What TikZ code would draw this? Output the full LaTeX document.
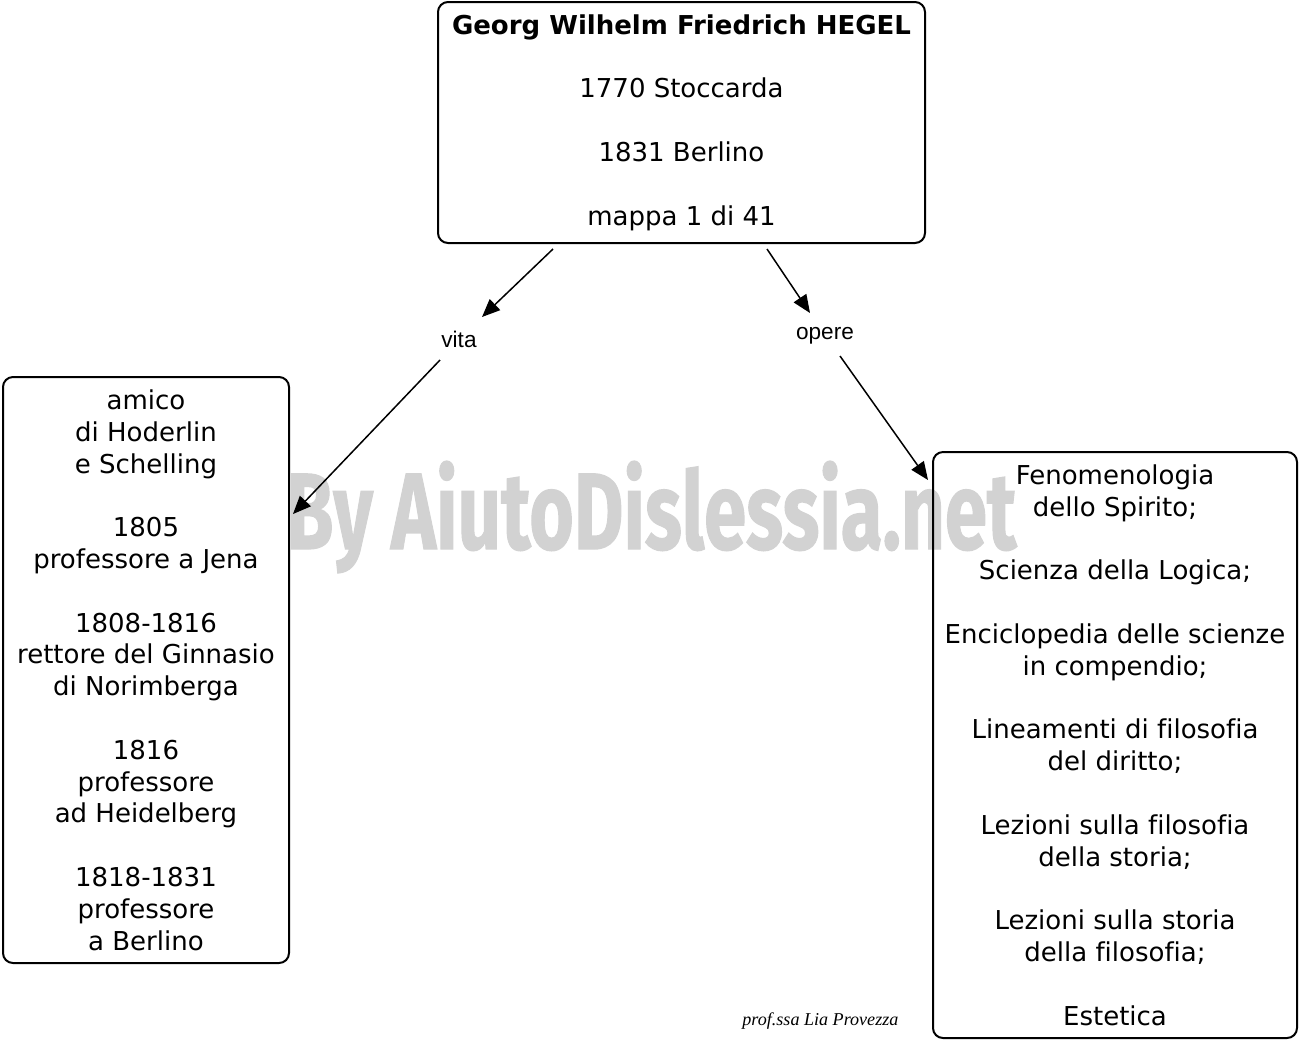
\documentclass[tikz,border=0pt]{standalone}
\usepackage{fontspec}
\usetikzlibrary{arrows.meta,calc}
\newfontfamily\boxfont[Ligatures=NoCommon]{DejaVu Sans}
\newfontfamily\lblfont{Liberation Sans}
\newfontfamily\wmfont[BoldFeatures={FakeBold=1.2}]{Fira Sans}
\newfontfamily\sigfont{Liberation Serif}
\definecolor{wmgray}{RGB}{210,210,210}
\tikzset{
  boxnode/.style={draw, rounded corners=5pt, line width=1pt, align=center,
    font=\boxfont\fontsize{13}{15.9}\selectfont, inner sep=0pt},
  lbl/.style={font=\lblfont\fontsize{11.3}{13}\selectfont, inner sep=0pt},
  arr/.style={line width=0.75pt, -{Triangle[length=9pt,width=7.5pt]}}
}
\begin{document}
\begin{tikzpicture}[x=0.5pt,y=-0.5pt]
\useasboundingbox (0,0) rectangle (1300,1041);
% watermark
\node[anchor=base west, inner sep=0pt, text=wmgray] (wm) at (286,549)
  {\resizebox{365pt}{44pt}{\wmfont\bfseries By AiutoDislessia.net}};
% boxes
\node[boxnode, minimum width=243.5pt, minimum height=120.5pt] (top) at (681.5,122.5)
  {{\bfseries Georg Wilhelm Friedrich HEGEL}\\[15.9pt]
   1770 Stoccarda\\[15.9pt]
   1831 Berlino\\[15.9pt]
   mappa 1 di 41};
\node[boxnode, minimum width=143pt, minimum height=293pt] (left) at (146,670)
  {amico\\di Hoderlin\\e Schelling\\[15.9pt]
   1805\\professore a Jena\\[15.9pt]
   1808-1816\\rettore del Ginnasio\\di Norimberga\\[15.9pt]
   1816\\professore\\ad Heidelberg\\[15.9pt]
   1818-1831\\professore\\a Berlino};
\node[boxnode, minimum width=182pt, minimum height=293pt] (right) at (1115,745)
  {Fenomenologia\\dello Spirito;\\[15.9pt]
   Scienza della Logica;\\[15.9pt]
   Enciclopedia delle scienze\\in compendio;\\[15.9pt]
   Lineamenti di filosofia\\del diritto;\\[15.9pt]
   Lezioni sulla filosofia\\della storia;\\[15.9pt]
   Lezioni sulla storia\\della filosofia;\\[15.9pt]
   Estetica};
% labels
\node[lbl] (vita) at (459,339) {vita};
\node[lbl] (opere) at (825,336) {opere};
% connectors
\draw[arr] ($(top.south)+(-128.5,5)$) -- ($(vita.center)+(23,-22)$);
\draw[arr] ($(vita.center)+(-19,21)$) -- ($(left.east)+(3,-156)$);
\draw[arr] ($(top.south)+(85.5,5)$) -- ($(opere.center)+(-15,-23)$);
\draw[arr] ($(opere.center)+(15,20)$) -- ($(right.north west)+(-4,29)$);
% signature
\node[anchor=base west, inner sep=0pt] (sig) at (742,1025)
  {\resizebox{78pt}{!}{\sigfont\itshape prof.ssa Lia Provezza}};
\end{tikzpicture}
\end{document}
